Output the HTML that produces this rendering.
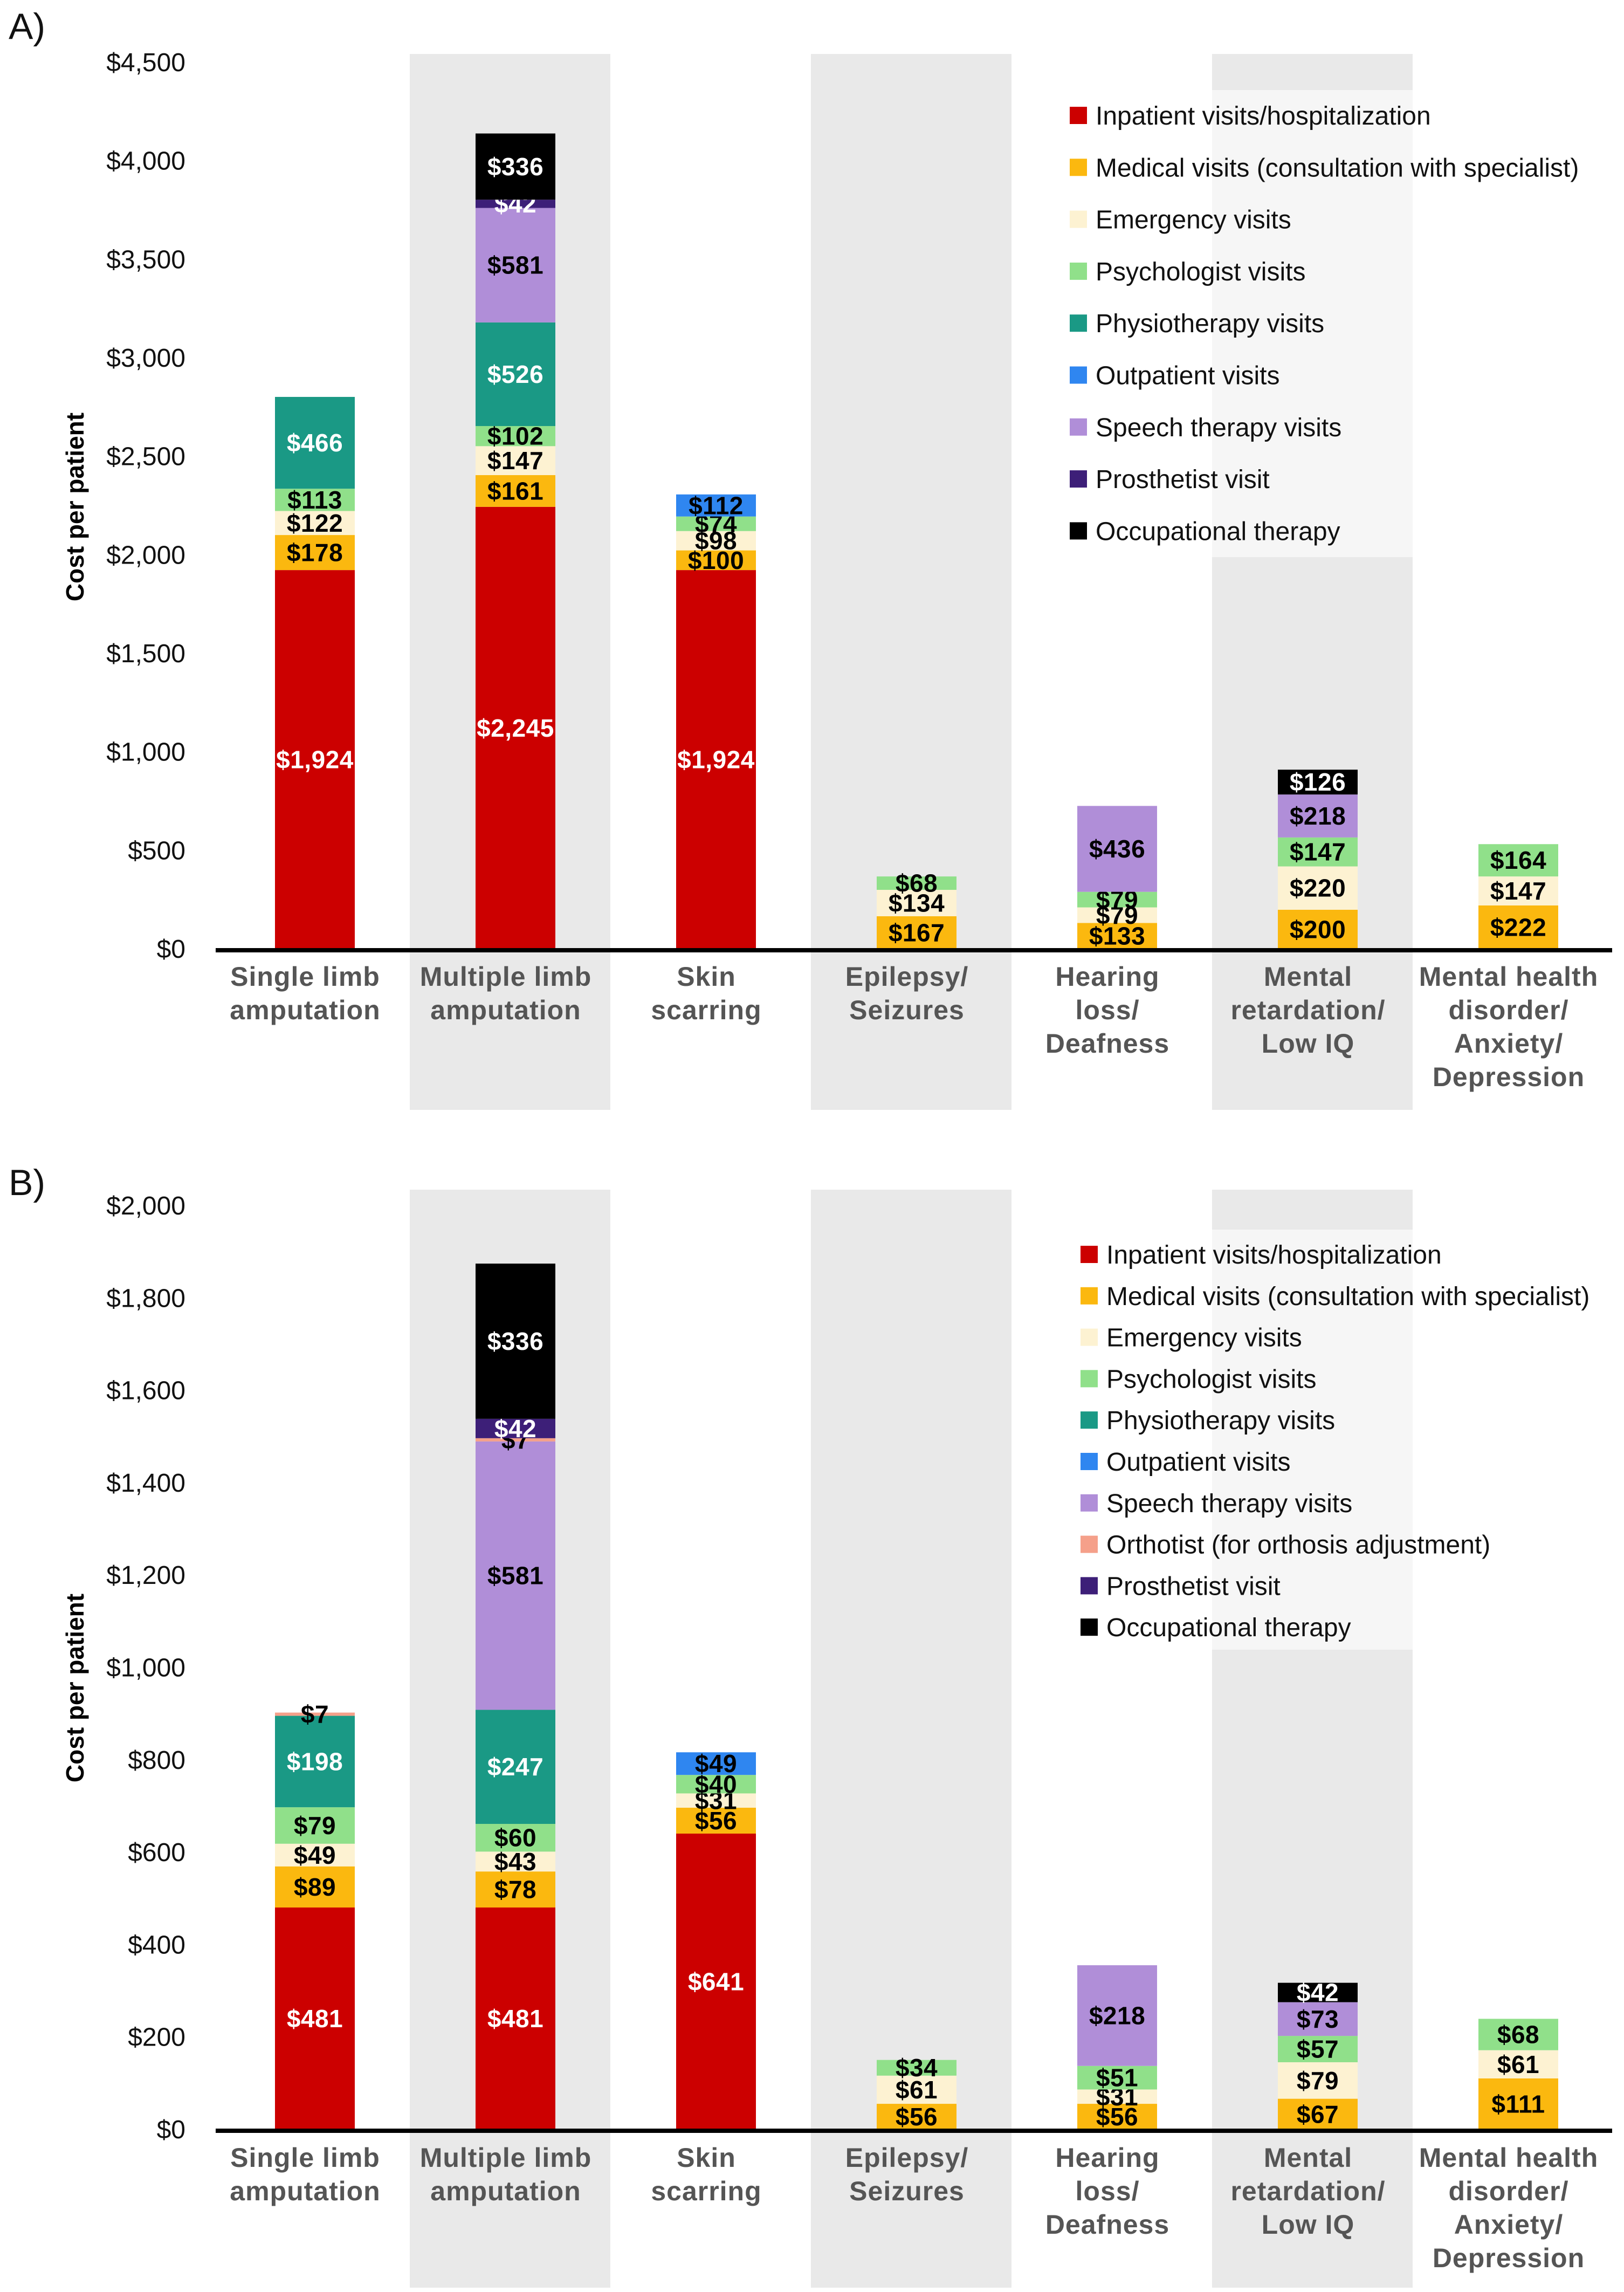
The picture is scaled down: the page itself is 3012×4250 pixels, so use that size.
<!DOCTYPE html>
<html><head><meta charset="utf-8">
<style>
html,body{margin:0;padding:0;background:#fff;}
svg{display:block;}
.tick{font-family:"Liberation Sans",sans-serif;font-size:48px;fill:#111;}
.cat{font-family:"Liberation Sans",sans-serif;font-weight:bold;font-size:50px;fill:#555;letter-spacing:1px;}
.val{font-family:"Liberation Sans",sans-serif;font-weight:bold;font-size:46px;letter-spacing:0.5px;}
.leg{font-family:"Liberation Sans",sans-serif;font-size:48px;fill:#111;}
</style></head>
<body>
<svg id="chart" width="3012" height="4250" viewBox="0 0 3012 4250" xmlns="http://www.w3.org/2000/svg"></svg>
<script>
const categories = [["Single limb","amputation"],["Multiple limb","amputation"],["Skin","scarring"],["Epilepsy/","Seizures"],["Hearing","loss/","Deafness"],["Mental","retardation/","Low IQ"],["Mental health","disorder/","Anxiety/","Depression"]];
const seriesA = ["Inpatient visits/hospitalization","Medical visits (consultation with specialist)","Emergency visits","Psychologist visits","Physiotherapy visits","Outpatient visits","Speech therapy visits","Prosthetist visit","Occupational therapy"];
const colorsA = ["#cc0000","#fbb80f","#fdf2d2","#90e08a","#1a9985","#2f86f0","#b08ed8","#3d1f78","#000000"];
const valuesA = [
 [1924,178,122,113,466,0,0,0,0],
 [2245,161,147,102,526,0,581,42,336],
 [1924,100,98,74,0,112,0,0,0],
 [0,167,134,68,0,0,0,0,0],
 [0,133,79,79,0,0,436,0,0],
 [0,200,220,147,0,0,218,0,126],
 [0,222,147,164,0,0,0,0,0]];
const ticksA = [0,500,1000,1500,2000,2500,3000,3500,4000,4500];
const seriesB = ["Inpatient visits/hospitalization","Medical visits (consultation with specialist)","Emergency visits","Psychologist visits","Physiotherapy visits","Outpatient visits","Speech therapy visits","Orthotist (for orthosis adjustment)","Prosthetist visit","Occupational therapy"];
const colorsB = ["#cc0000","#fbb80f","#fdf2d2","#90e08a","#1a9985","#2f86f0","#b08ed8","#f5a08a","#3d1f78","#000000"];
const valuesB = [
 [481,89,49,79,198,0,0,7,0,0],
 [481,78,43,60,247,0,581,7,42,336],
 [641,56,31,40,0,49,0,0,0,0],
 [0,56,61,34,0,0,0,0,0,0],
 [0,56,31,51,0,0,218,0,0,0],
 [0,67,79,57,0,0,73,0,0,42],
 [0,111,61,68,0,0,0,0,0,0]];
const ticksB = [0,200,400,600,800,1000,1200,1400,1600,1800,2000];

const NS="http://www.w3.org/2000/svg";
const svg=document.getElementById('chart');
function mk(tag,attrs,parent){const e=document.createElementNS(NS,tag);for(const k in attrs)e.setAttribute(k,attrs[k]);(parent||svg).appendChild(e);return e;}
const whiteLabel={"#cc0000":1,"#1a9985":1,"#000000":1,"#3d1f78":1};

function drawPanel(cfg){
  const g=mk('g',{});
  
  
  const bandStart=388,bw=372;
  const y0=cfg.y0, ppu=cfg.ppu;
  const yScale=v=>y0-v*ppu;
  const xBand=i=>bandStart+bw*i;
  [1,3,5].forEach(i=>{
    const r=mk('rect',{x:xBand(i),y:cfg.bandTop,width:bw,height:cfg.bandBottom-cfg.bandTop,fill:'#e9e9e9'},g);
    
    
  });
  const lp=mk('rect',{x:cfg.legX-50,y:cfg.legPanelTop,width:2990-(cfg.legX-50),height:cfg.legPanelBottom-cfg.legPanelTop,fill:'#ffffff','fill-opacity':0.6},g);
  
  
  const pl=mk('text',{x:16,y:cfg.letterY,'font-family':'Liberation Sans,sans-serif','font-size':68,fill:'#111'},g);
  pl.textContent=cfg.letter;
  
  
  cfg.ticks.forEach(t=>{
    const tx=mk('text',{x:344,y:yScale(t)+16,'text-anchor':'end',class:'tick'},g);
    tx.textContent='$'+t.toLocaleString('en-US');
    
    
  });
  const yt=mk('text',{x:0,y:0,transform:`translate(155,${cfg.titleY}) rotate(-90)`,'text-anchor':'middle','font-family':'Liberation Sans,sans-serif','font-weight':'bold','font-size':46,fill:'#000'},g);
  yt.textContent='Cost per patient';
  
  
  cfg.values.forEach((vals,i)=>{
    const cx=xBand(i)+bw/2+10, w=148;
    let acc=0;
    vals.forEach((v,s)=>{
      if(v<=0)return;
      const yt2=yScale(acc+v), yb=yScale(acc);
      const r=mk('rect',{x:cx-w/2,y:yt2,width:w,height:yb-yt2,fill:cfg.colors[s]},g);
      
      
      const lb=mk('text',{x:cx,y:(yt2+yb)/2+16,'text-anchor':'middle',class:'val',fill:whiteLabel[cfg.colors[s]]?'#fff':'#000'},g);
      lb.textContent='$'+v.toLocaleString('en-US');
      
      
      acc+=v;
    });
    categories[i].forEach((line,k)=>{
      const c=mk('text',{x:cx-18,y:cfg.catY+k*62,'text-anchor':'middle',class:'cat'},g);
      c.textContent=line;
      
      
    });
  });
  const ax=mk('line',{x1:400,x2:2990,y1:y0+2,y2:y0+2,stroke:'#000','stroke-width':8},g);
  
  
  cfg.series.forEach((s,k)=>{
    const y=cfg.legY+k*cfg.legStep;
    const sq=mk('rect',{x:cfg.legX,y:y-16,width:32,height:32,fill:cfg.colors[k]},g);
    
    
    const t=mk('text',{x:cfg.legX+48,y:y+17,class:'leg'},g);
    t.textContent=s;
    
    
  });
}
drawPanel({name:'chart-a',letter:'A)',letterY:72,y0:1760,ppu:1644/4500,ticks:ticksA,values:valuesA,series:seriesA,colors:colorsA,
  bandTop:100,bandBottom:2058,catY:1828,titleY:940,legX:1984,legY:214,legStep:96.3,legPanelTop:167,legPanelBottom:1033});
drawPanel({name:'chart-b',letter:'B)',letterY:2216,y0:3949,ppu:1713/2000,ticks:ticksB,values:valuesB,series:seriesB,colors:colorsB,
  bandTop:2206,bandBottom:4242,catY:4018,titleY:3130,legX:2004,legY:2326,legStep:76.8,legPanelTop:2280,legPanelBottom:3059});
</script>
</body></html>
